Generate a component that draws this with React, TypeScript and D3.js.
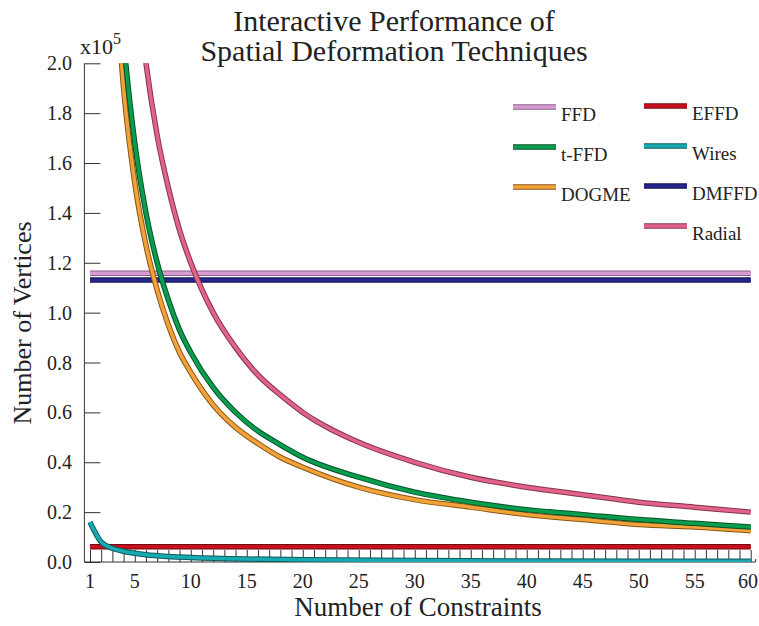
import React, { useEffect, useRef } from "react";
import * as d3 from "d3";

// values in units of 10^5 vertices
const constraints = [3, 4, 5, 6, 7, 8, 9, 10, 12, 14, 16, 18, 20, 25, 30, 35, 40, 45, 50, 55, 60];
const radialValues = [4.0, 3.0, 2.4, 2.0, 1.71, 1.5, 1.33, 1.2, 1.0, 0.86, 0.75, 0.67, 0.6, 0.48, 0.4, 0.34, 0.3, 0.27, 0.24, 0.22, 0.2];
const tffdValues = [2.8, 2.1, 1.68, 1.4, 1.2, 1.05, 0.93, 0.84, 0.7, 0.6, 0.525, 0.47, 0.42, 0.34, 0.28, 0.24, 0.21, 0.19, 0.17, 0.155, 0.14];
const dogmeValues = [2.53, 1.9, 1.52, 1.27, 1.09, 0.95, 0.84, 0.76, 0.63, 0.54, 0.475, 0.42, 0.38, 0.3, 0.25, 0.22, 0.19, 0.17, 0.15, 0.14, 0.125];
const wiresN = [1, 2, 3, 4, 5, 6, 8, 10, 15, 20, 30, 40, 50, 60];
const wiresValues = [0.16, 0.08, 0.055, 0.043, 0.035, 0.029, 0.022, 0.018, 0.012, 0.009, 0.006, 0.004, 0.003, 0.003];
const flatN = [1, 60];
const ffdValues = [1.158, 1.158];
const dmffdValues = [1.131, 1.131];
const effdValues = [0.061, 0.061];

const yTicks = [0, 0.2, 0.4, 0.6, 0.8, 1.0, 1.2, 1.4, 1.6, 1.8, 2.0];
const xLabelTicks = [1, 5, 10, 15, 20, 25, 30, 35, 40, 45, 50, 55, 60];

const series = [
  { name: "FFD", xs: flatN, ys: ffdValues, color: "#d99bd3", edge: "#8c5f88" },
  { name: "DMFFD", xs: flatN, ys: dmffdValues, color: "#25258f", edge: "#12124a" },
  { name: "EFFD", xs: flatN, ys: effdValues, color: "#c8101c", edge: "#6e0a10" },
  { name: "Wires", xs: wiresN, ys: wiresValues, color: "#17aab0", edge: "#0b5a5c" },
  { name: "DOGME", xs: constraints, ys: dogmeValues, color: "#f2a23a", edge: "#8a5510" },
  { name: "t-FFD", xs: constraints, ys: tffdValues, color: "#0b9d4e", edge: "#055229" },
  { name: "Radial", xs: constraints, ys: radialValues, color: "#e2638a", edge: "#84344c" },
];

const legendLeft = ["FFD", "t-FFD", "DOGME"];
const legendRight = ["EFFD", "Wires", "DMFFD", "Radial"];

const App = () => {
  const ref = useRef<SVGSVGElement>(null);

  useEffect(() => {
    document.body.style.margin = "0";
    document.body.style.overflow = "hidden";
    const svg = d3.select(ref.current);
    svg.selectAll("*").remove();
    const font = "'Liberation Serif', 'Times New Roman', serif";

    const left = 84.4;
    const right = 750.7;
    const top = 63.3;
    const bottom = 562;

    const x = d3.scaleLinear().domain([0.5, 60]).range([left, right]);
    const y = d3.scaleLinear().domain([0, 2]).range([bottom, top]);

    svg.append("defs").append("clipPath").attr("id", "plotClip")
      .append("rect")
      .attr("x", left).attr("y", top).attr("width", right - left + 6).attr("height", bottom - top);

    // title
    const title = svg.append("text")
      .attr("text-anchor", "middle")
      .style("font-family", font).style("font-size", "30px").style("fill", "#222");
    title.append("tspan").attr("x", 394).attr("y", 31).text("Interactive Performance of");
    title.append("tspan").attr("x", 394).attr("y", 61).text("Spatial Deformation Techniques");

    // x10^5
    const mult = svg.append("text").attr("x", 80).attr("y", 54)
      .style("font-family", font).style("font-size", "22px").style("fill", "#222");
    mult.append("tspan").text("x10");
    mult.append("tspan").attr("dy", -10).style("font-size", "16px").text("5");

    // y axis
    const yAxis = d3.axisRight(y).tickValues(yTicks).tickSize(16).tickFormat(() => "");
    const gy = svg.append("g").attr("transform", `translate(${left},0)`).call(yAxis);
    gy.select(".domain").attr("stroke", "#333").attr("d", `M0,${top}V${bottom}`);
    gy.selectAll(".tick line").attr("stroke", "#333");

    svg.selectAll(".ylab").data(yTicks).enter().append("text")
      .attr("class", "ylab")
      .attr("x", 72).attr("y", (d) => y(d)).attr("dy", "0.35em")
      .attr("text-anchor", "end")
      .style("font-family", font).style("font-size", "20px").style("fill", "#222")
      .text((d) => d3.format(".1f")(d));

    // x axis
    const xAxis = d3.axisTop(x).tickValues(d3.range(1, 61)).tickSize(12).tickFormat(() => "");
    const gx = svg.append("g").attr("transform", `translate(0,${bottom})`).call(xAxis);
    gx.select(".domain").attr("stroke", "#333").attr("d", `M${left},0H${right + 5}V-3`);
    gx.selectAll(".tick line").attr("stroke", "#333");

    svg.selectAll(".xlab").data(xLabelTicks).enter().append("text")
      .attr("class", "xlab")
      .attr("x", (d) => (d === 60 ? 758 : x(d))).attr("y", 588)
      .attr("text-anchor", (d) => (d === 60 ? "end" : "middle"))
      .style("font-family", font).style("font-size", "20px").style("fill", "#222")
      .text((d) => d);

    svg.append("text")
      .attr("x", 418).attr("y", 616).attr("text-anchor", "middle")
      .style("font-family", font).style("font-size", "27px").style("fill", "#222")
      .text("Number of Constraints");

    svg.append("text")
      .attr("transform", "translate(31,323) rotate(-90)")
      .attr("text-anchor", "middle")
      .style("font-family", font).style("font-size", "26px").style("fill", "#222")
      .text("Number of Vertices");

    // lines
    const plot = svg.append("g").attr("clip-path", "url(#plotClip)");
    series.forEach((s) => {
      const pts: [number, number][] = s.xs.map((n, i) => [n, s.ys[i]]);
      const line = d3.line<[number, number]>()
        .x((d) => x(d[0]))
        .y((d) => y(d[1]))
        .curve(d3.curveMonotoneX);
      plot.append("path").datum(pts).attr("d", line)
        .attr("fill", "none").attr("stroke", s.edge).attr("stroke-width", 5.5);
      plot.append("path").datum(pts).attr("d", line)
        .attr("fill", "none").attr("stroke", s.color).attr("stroke-width", 3.5);
    });

    // legend
    const legendItem = (name: string, lx: number, ly: number) => {
      const s = series.find((d) => d.name === name)!;
      svg.append("line").attr("x1", lx).attr("x2", lx + 43).attr("y1", ly).attr("y2", ly)
        .attr("stroke", s.edge).attr("stroke-width", 5.5);
      svg.append("line").attr("x1", lx).attr("x2", lx + 43).attr("y1", ly).attr("y2", ly)
        .attr("stroke", s.color).attr("stroke-width", 3.5);
      svg.append("text").attr("x", lx + 48).attr("y", ly + 14)
        .style("font-family", font).style("font-size", "19px").style("fill", "#222")
        .text(name);
    };
    legendLeft.forEach((n, i) => legendItem(n, 513, 107 + i * 40));
    legendRight.forEach((n, i) => legendItem(n, 644, 106 + i * 40));
  }, []);

  return (
    <div style={{ background: "white" }}>
      <svg ref={ref} width={759} height={626} style={{ display: "block", overflow: "visible" }} />
    </div>
  );
};

export default App;
